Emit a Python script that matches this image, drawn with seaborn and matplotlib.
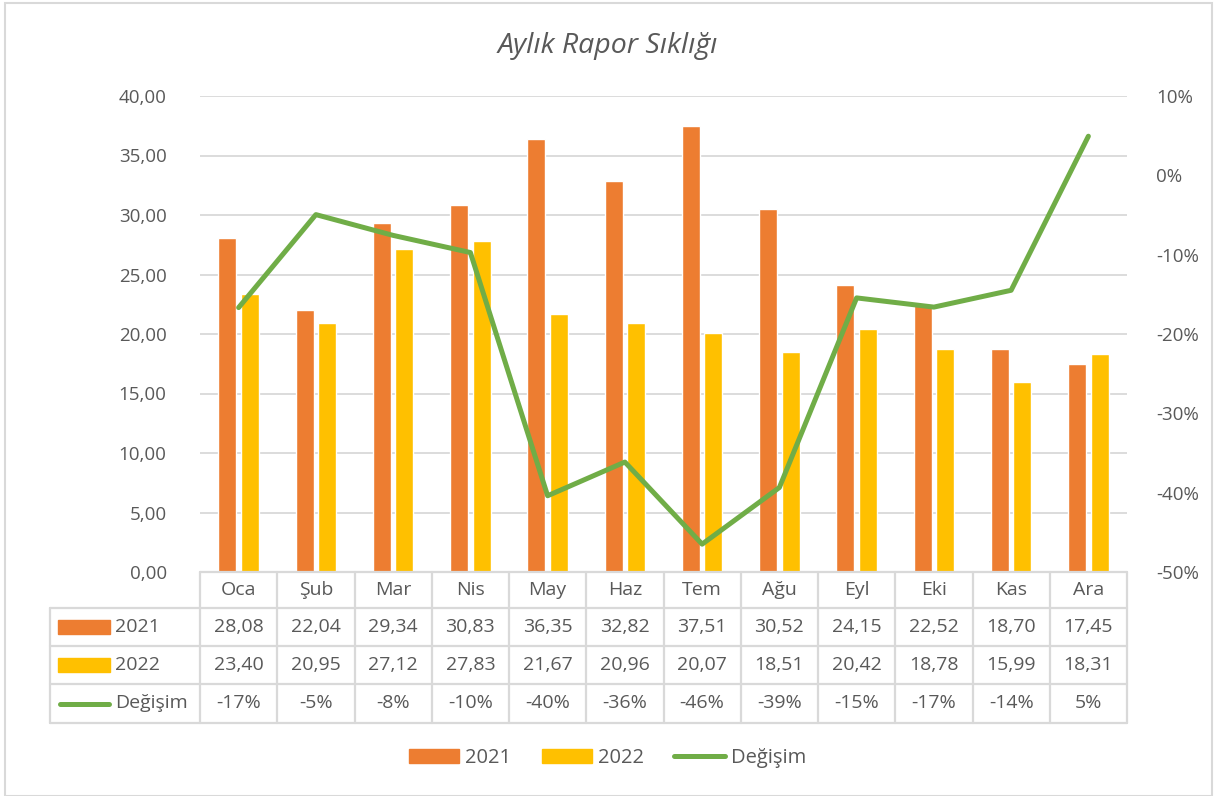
import numpy as np
import pandas as pd
import matplotlib
matplotlib.use("Agg")
import matplotlib.pyplot as plt
import matplotlib.transforms as mtransforms
from matplotlib.patches import Rectangle, Patch
from matplotlib.lines import Line2D
import seaborn as sns

# ------------------------------------------------------------------
# data
# ------------------------------------------------------------------
months = ["Oca", "Şub", "Mar", "Nis", "May", "Haz", "Tem", "Ağu", "Eyl", "Eki", "Kas", "Ara"]
y2021 = [28.08, 22.04, 29.34, 30.83, 36.35, 32.82, 37.51, 30.52, 24.15, 22.52, 18.70, 17.45]
y2022 = [23.40, 20.95, 27.12, 27.83, 21.67, 20.96, 20.07, 18.51, 20.42, 18.78, 15.99, 18.31]
change = [-0.1667, -0.0495, -0.0757, -0.0973, -0.4039, -0.3614, -0.4649, -0.3935,
          -0.1545, -0.1661, -0.1449, 0.0493]
series_names = ["2021", "2022", "Değişim"]
left_ticks = [0, 5, 10, 15, 20, 25, 30, 35, 40]
right_ticks = [-0.5, -0.4, -0.3, -0.2, -0.1, 0.0, 0.1]

ORANGE = "#ED7D31"
YELLOW = "#FFC000"
GREEN = "#70AD47"
TXT = "#595959"
GRID = "#D9D9D9"

sns.set_style("white")
plt.rcParams["font.family"] = ["Open Sans", "DejaVu Sans"]
FS = 14

W, H = 1215, 796
fig = plt.figure(figsize=(W / 100, H / 100), dpi=100)
ax = fig.add_axes([200 / W, 1 - 572 / H, 927 / W, 476 / H])

df = pd.DataFrame({
    "ay": months * 2,
    "yil": ["2021"] * 12 + ["2022"] * 12,
    "deger": y2021 + y2022,
})
sns.barplot(data=df, x="ay", y="deger", hue="yil", order=months,
            palette={"2021": ORANGE, "2022": YELLOW}, width=0.58, gap=0.2,
            saturation=1, legend=False, ax=ax, zorder=3)
ax.set_ylim(0, 40)
ax.set_yticks(left_ticks)
ax.set_yticklabels([f"{v:.2f}".replace(".", ",") for v in left_ticks], color=TXT, fontsize=13.5)
ax.set_xticks([])
ax.set_xlabel("")
ax.set_ylabel("")
ax.grid(axis="y", color=GRID, lw=1.3, zorder=0)
ax.set_axisbelow(True)
for s in ax.spines.values():
    s.set_visible(False)
ax.tick_params(axis="y", length=0, pad=24)

ax2 = ax.twinx()
sns.lineplot(x=np.arange(len(months)), y=change, color=GREEN, lw=3.6, ax=ax2,
             solid_joinstyle="round", solid_capstyle="round")
ax2.set_ylim(-0.5, 0.1)
ax2.set_yticks(right_ticks)
ax2.set_yticklabels([f"{v * 100:.0f}%" for v in right_ticks], color=TXT, fontsize=13.5)
ax2.tick_params(axis="y", length=0, pad=21)
ax2.set_ylabel("")
for s in ax2.spines.values():
    s.set_visible(False)
ax.set_xlim(-0.5, len(months) - 0.5)
ax2.set_xlim(-0.5, len(months) - 0.5)

# ------------------------------------------------------------------
# data table under the plot
# ------------------------------------------------------------------
tr_data = mtransforms.blended_transform_factory(ax.transData, fig.transFigure)
tr_axes = mtransforms.blended_transform_factory(ax.transAxes, fig.transFigure)

def fy(py):
    return 1 - py / H

def fx(px):
    return (px - 200) / 927

row_edges = [572, 608, 646, 684, 723]
lkw = dict(color=GRID, lw=1.6, clip_on=False, zorder=5)
fig.add_artist(Line2D([0, 1], [fy(572)] * 2, transform=tr_axes, **lkw))
for py in row_edges[1:]:
    fig.add_artist(Line2D([fx(50), 1], [fy(py)] * 2, transform=tr_axes, **lkw))
for k in range(len(months) + 1):
    fig.add_artist(Line2D([k / 12] * 2, [fy(572), fy(723)], transform=tr_axes, **lkw))
fig.add_artist(Line2D([fx(50)] * 2, [fy(608), fy(723)], transform=tr_axes, **lkw))

row_mid = [(a + b) / 2 for a, b in zip(row_edges[:-1], row_edges[1:])]
rows = [
    months,
    [f"{v:.2f}".replace(".", ",") for v in y2021],
    [f"{v:.2f}".replace(".", ",") for v in y2022],
    [f"{v * 100:.0f}%" for v in change],
]
for r, vals in enumerate(rows):
    for i, t in enumerate(vals):
        fig.text(i, fy(row_mid[r]), t, transform=tr_data, ha="center", va="center",
                 fontsize=FS, color=TXT)

# legend keys in the label column
for r, col in zip([1, 2], [ORANGE, YELLOW]):
    fig.add_artist(Rectangle((fx(58), fy(row_mid[r] + 7)), fx(110) - fx(58), 14 / H,
                             transform=tr_axes, color=col, clip_on=False))
fig.add_artist(Line2D([fx(60), fx(109)], [fy(row_mid[3])] * 2, transform=tr_axes,
                      color=GREEN, lw=3.6, solid_capstyle="round"))
for r, name in zip([1, 2, 3], series_names):
    fig.text(fx(115), fy(row_mid[r]), name, transform=tr_axes, ha="left", va="center",
             fontsize=FS, color=TXT)

# ------------------------------------------------------------------
# title, legend, outer frame
# ------------------------------------------------------------------
fig.text(0.5, fy(46), "Aylık Rapor Sıklığı", ha="center", va="center",
         fontsize=20.5, style="italic", color=TXT)

handles = [Patch(color=ORANGE), Patch(color=YELLOW),
           Line2D([], [], color=GREEN, lw=3.6, solid_capstyle="round")]
fig.legend(handles, series_names, loc="center", bbox_to_anchor=(0.5, fy(758)),
           ncol=3, frameon=False, fontsize=14.5, labelcolor=TXT,
           handlelength=2.5, handleheight=0.65, handletextpad=0.3, columnspacing=1.5)

fig.add_artist(Rectangle((5 / W, 0), (1212 - 5) / W, fy(3), transform=fig.transFigure,
                         fill=False, edgecolor=GRID, lw=1.5))

fig.savefig("out.png", dpi=100)
